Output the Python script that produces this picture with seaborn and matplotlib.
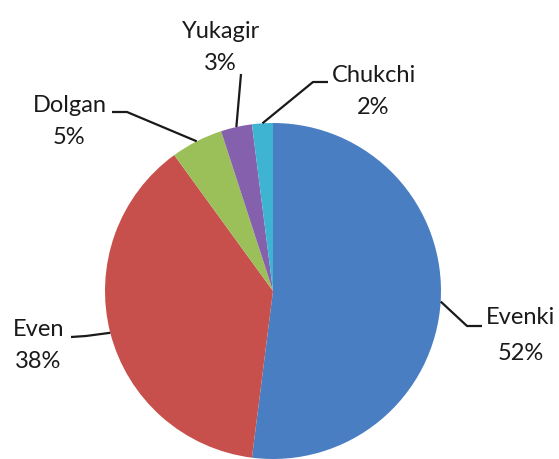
import numpy as np
import matplotlib
matplotlib.use("Agg")
import matplotlib.pyplot as plt
import seaborn as sns

# data
groups = ["Evenki", "Even", "Dolgan", "Yukagir", "Chukchi"]
shares = [52, 38, 5, 3, 2]
colors = ["#4A7EC2", "#C8504C", "#9BC05A", "#8560AC", "#3FB4D2"]

sns.set_theme(style="white")
plt.rcParams['font.family'] = ['Lato', 'DejaVu Sans']

W, H = 559, 459
fig = plt.figure(figsize=(W / 100, H / 100), dpi=100)
ax = fig.add_axes([0, 0, 1, 1])

# pie in pixel coords (y measured from bottom)
cx, cy, r = 273, H - 291, 168
wedges, _ = ax.pie(shares, colors=colors, startangle=90, counterclock=False,
                   center=(cx, cy), radius=r, frame=True,
                   wedgeprops=dict(linewidth=0))
ax.set_xlim(0, W)
ax.set_ylim(0, H)
ax.set_aspect('equal')
ax.axis('off')

# label layout (pixel coords from top): name centre, pct centre, elbow, line end near text
layout = {
    "Dolgan":  dict(name=(70, 105), pct=(69, 137), elbow=(127, 112), end=(112, 112)),
    "Yukagir": dict(name=(221, 31), pct=(220, 64), elbow=(241, 74), end=(241, 74)),
    "Chukchi": dict(name=(374, 75), pct=(373, 108), elbow=(313, 82), end=(328, 82)),
    "Even":    dict(name=(39, 329), pct=(38, 362), elbow=(86, 336), end=(71, 337)),
    "Evenki":  dict(name=(521, 317), pct=(521, 353), elbow=(467, 326), end=(482, 326)),
}

txt_color = "#1a1a1a"
fs = 17
for w, g, s in zip(wedges, groups, shares):
    mid = np.deg2rad((w.theta1 + w.theta2) / 2)
    px, py = cx + r * np.cos(mid), cy + r * np.sin(mid)
    L = layout[g]
    ex, ey = L["elbow"]
    tx, ty = L["end"]
    ax.plot([px, ex, tx], [py, H - ey, H - ty], color="#1a1a1a", lw=1.6,
            solid_capstyle='butt')
    ax.text(L["name"][0], H - L["name"][1], g, ha='center', va='center',
            fontsize=fs, color=txt_color)
    ax.text(L["pct"][0], H - L["pct"][1], f"{s}%", ha='center', va='center',
            fontsize=fs, color=txt_color)

fig.savefig("out.png", dpi=100, facecolor="white")
